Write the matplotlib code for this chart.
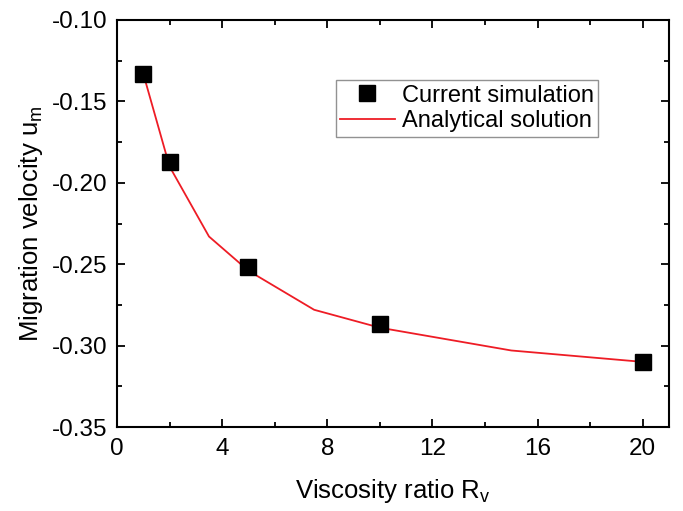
import matplotlib
matplotlib.use('Agg')
import matplotlib.pyplot as plt
from matplotlib.ticker import MultipleLocator

plt.rcParams['font.family'] = ['Liberation Sans', 'DejaVu Sans']
plt.rcParams['mathtext.fontset'] = 'custom'
plt.rcParams['mathtext.rm'] = 'Liberation Sans'
plt.rcParams['mathtext.it'] = 'Liberation Sans'

# simulation points
sim_ratio = [1, 2, 5, 10, 20]
sim_velocity = [-0.133, -0.187, -0.252, -0.287, -0.310]

# analytical curve
ana_ratio = [1, 2, 3.5, 5, 7.5, 10, 15, 20]
ana_velocity = [-0.133, -0.190, -0.233, -0.254, -0.278, -0.289, -0.303, -0.310]

fig = plt.figure(figsize=(6.83, 5.11), dpi=100)
ax = fig.add_axes([117 / 683, 84 / 511, 552 / 683, 407 / 511])

ax.plot(ana_ratio, ana_velocity, color='#ee1c25', linewidth=1.3,
        label='Analytical solution', zorder=2)
ax.plot(sim_ratio, sim_velocity, 's', color='black', markersize=11,
        linestyle='none', label='Current simulation', zorder=3)

ax.set_xlim(0, 21)
ax.set_ylim(-0.35, -0.10)
ax.xaxis.set_major_locator(MultipleLocator(4))
ax.xaxis.set_minor_locator(MultipleLocator(2))
ax.yaxis.set_major_locator(MultipleLocator(0.05))
ax.yaxis.set_minor_locator(MultipleLocator(0.025))
ax.yaxis.set_major_formatter(plt.FormatStrFormatter('%.2f'))

ax.tick_params(which='both', direction='in', top=True, right=True,
               width=1.3, labelsize=17.5)
ax.tick_params(which='major', length=6)
ax.tick_params(which='minor', length=3.5)
ax.tick_params(axis='x', which='major', pad=8)
ax.tick_params(axis='y', which='major', pad=7)
for s in ax.spines.values():
    s.set_linewidth(1.5)

ax.set_xlabel('Viscosity ratio R$_\\mathregular{v}$', fontsize=18.5, labelpad=12)
ax.set_ylabel('Migration velocity u$_\\mathregular{m}$', fontsize=18.5, labelpad=5)

handles, labels = ax.get_legend_handles_labels()
leg = ax.legend(handles[::-1], labels[::-1], loc='upper left',
                bbox_to_anchor=(0.396, 0.853), fontsize=17, frameon=True,
                fancybox=False, edgecolor='#777777', handlelength=2.3,
                handletextpad=0.3, borderpad=0.2, labelspacing=0.15,
                borderaxespad=0)
leg.get_frame().set_linewidth(1.0)

fig.savefig('out.png', dpi=100)
